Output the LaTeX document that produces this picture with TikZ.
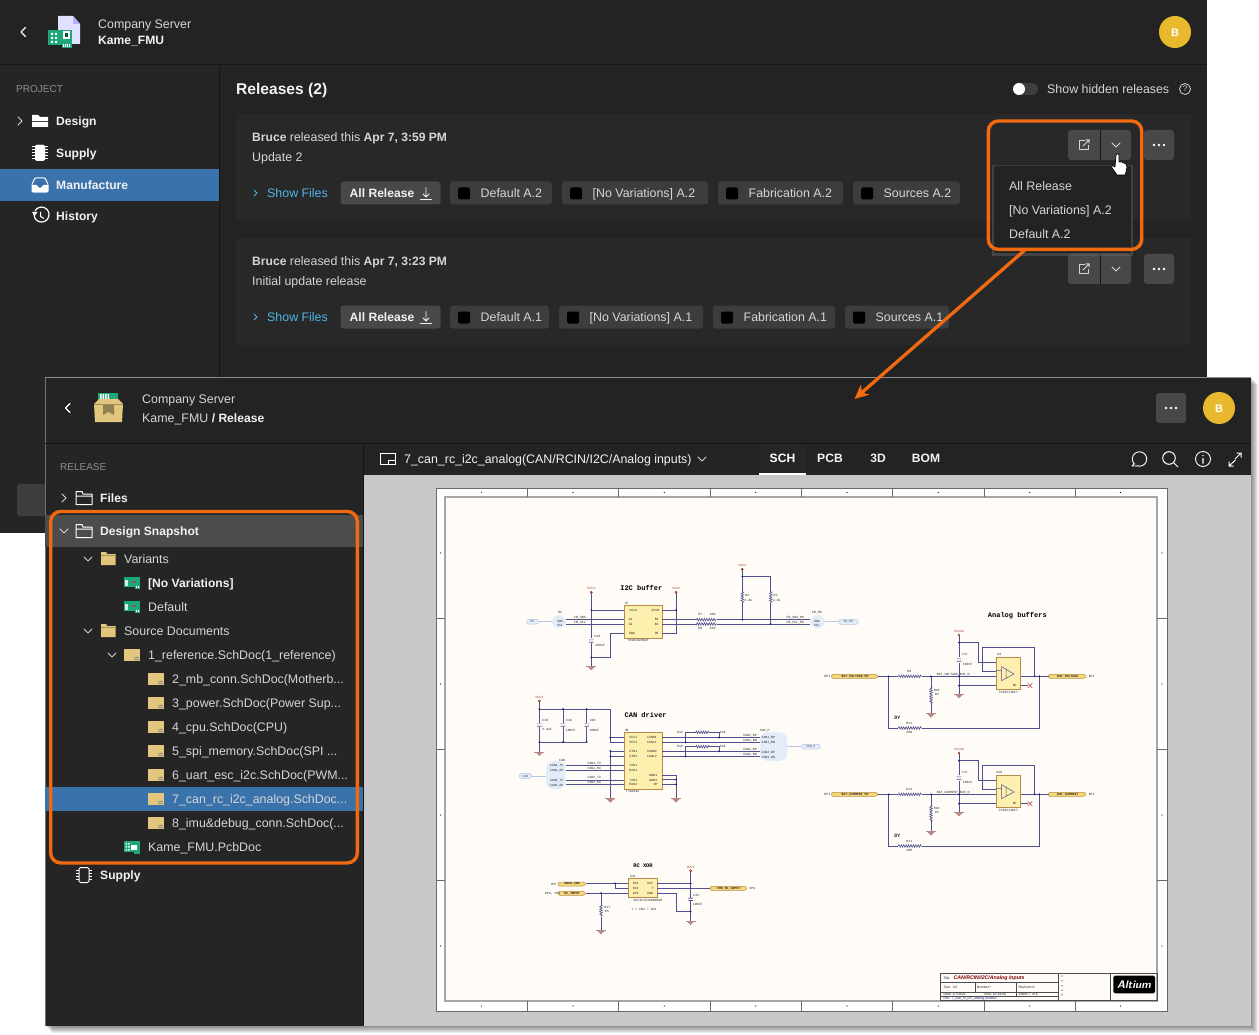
\documentclass[tikz,border=0pt]{standalone}
\usepackage{fontspec}
\setmainfont{Liberation Sans}
\setmonofont{Liberation Mono}
\usetikzlibrary{arrows.meta,decorations.pathmorphing,shapes.geometric}
\definecolor{winbg}{HTML}{232323}
\definecolor{sidebg}{HTML}{252525}
\definecolor{cardbg}{HTML}{282828}
\definecolor{linec}{HTML}{161616}
\definecolor{btnbg}{HTML}{3D3D3D}
\definecolor{btnhi}{HTML}{484848}
\definecolor{txt}{HTML}{D6D6D6}
\definecolor{txtb}{HTML}{F2F2F2}
\definecolor{dimtxt}{HTML}{8E8E8E}
\definecolor{selblue}{HTML}{3A72AB}
\definecolor{rowgrey}{HTML}{4C4C4C}
\definecolor{oran}{HTML}{F26A10}
\definecolor{linkc}{HTML}{4FB4E6}
\definecolor{gold}{HTML}{E8B82E}
\definecolor{tan}{HTML}{E2C67E}
\definecolor{pcbg}{HTML}{1FA679}
\definecolor{canvasg}{HTML}{C8C8C8}
\definecolor{sheetc}{HTML}{FFFCF8}
\definecolor{framec}{HTML}{6A6A6A}
\definecolor{wirec}{HTML}{50508F}
\definecolor{jdotc}{HTML}{1C1C80}
\definecolor{icfill}{HTML}{FDF0AE}
\definecolor{icedge}{HTML}{B88A4C}
\definecolor{gndc}{HTML}{B88888}
\definecolor{vccc}{HTML}{A03028}
\definecolor{portf}{HTML}{F7D77C}
\definecolor{porte}{HTML}{B98F3E}
\definecolor{harn}{HTML}{E3EDF9}
\definecolor{harne}{HTML}{B4C8E4}
\newcounter{nn}
\newcommand{\lbl}[3][]{\stepcounter{nn}\node[ui,#1] (n\thenn) at (#2) {#3};}
\newcommand{\slbl}[3][]{\stepcounter{nn}\node[tiny3,#1] (n\thenn) at (#2) {#3};}
\tikzset{
 ui/.style={anchor=west,inner sep=0pt,text height=9pt,text depth=0pt,text=txt,font=\fontsize{12.4}{14}\selectfont},
 uib/.style={text=txtb,font=\fontsize{12.1}{14}\selectfont\bfseries},
 tiny3/.style={inner sep=0pt,text=black!85,font=\fontsize{3.2}{3}\selectfont\ttfamily},
 wire/.style={draw=wirec,line width=.6pt},
 icon/.style={draw=white,line width=1pt},
 pill/.style={fill=btnbg,draw=none,rounded corners=3pt},
 chev/.style={draw=#1,line width=1pt,line cap=round,line join=round},
 chev/.default=txt,
 frameo/.style={draw=oran,line width=3.4pt,rounded corners=10pt,inner sep=0pt,fill=none},
 res/.style={wire,decorate,decoration={zigzag,segment length=2.4pt,amplitude=1.3pt}},
 ic/.style={draw=icedge,fill=icfill,line width=.7pt},
}
% --- UI icon macros ---
\newcommand{\chevR}[2]{\draw[chev] (#1-2,#2-4)--(#1+2,#2)--(#1-2,#2+4);}
\newcommand{\chevD}[2]{\draw[chev] (#1-4,#2-2)--(#1,#2+2)--(#1+4,#2-2);}
\newcommand{\foldout}[2]{\draw[icon,line join=round] (#1,#2-6)--(#1,#2+6.5)--(#1+16,#2+6.5)--(#1+16,#2-4)--(#1+7,#2-4)--(#1+6,#2-6.5)--(#1,#2-6.5)--cycle (#1,#2-2)--(#1+16,#2-2);}
\newcommand{\foldtan}[2]{\fill[tan] (#1,#2-7)--(#1+5,#2-7)--(#1+6.5,#2-5)--(#1+14.5,#2-5)--(#1+14.5,#2+6)--(#1,#2+6)--cycle; \fill[tan!75!black] (#1,#2-4.5) rectangle (#1+14.5,#2-3.7);}
\newcommand{\schdoc}[2]{\fill[tan] (#1,#2-6) rectangle (#1+16,#2+6); \draw[black!45,line width=.6pt] (#1+10,#2+2.5)--(#1+15,#2+2.5) (#1+10,#2+4.5)--(#1+15,#2+4.5);}
\newcommand{\variant}[2]{\fill[pcbg] (#1,#2-6) rectangle (#1+16,#2+4); \fill[pcbg] (#1+11,#2+4) rectangle (#1+16,#2+6); \fill[white!80!pcbg] (#1+1,#2-3) rectangle (#1+4,#2+3); \fill[red!40!pcbg] (#1+8,#2-2) rectangle (#1+12,#2); \fill[white] (#1+12,#2+3) rectangle (#1+13,#2+5) (#1+14,#2+3) rectangle (#1+15,#2+5);}
\newcommand{\pcbdoc}[2]{\fill[pcbg] (#1,#2-6) rectangle (#1+16,#2+5); \fill[pcbg] (#1+10,#2+5) rectangle (#1+16,#2+7); \fill[white] (#1+7,#2-2.5) rectangle (#1+13,#2+3); \fill[white] (#1+1.5,#2-4) rectangle (#1+3,#2-2.5) (#1+4,#2-4) rectangle (#1+5.5,#2-2.5) (#1+1.5,#2-1) rectangle (#1+3,#2+.5) (#1+4,#2-1) rectangle (#1+5.5,#2+.5) (#1+1.5,#2+2) rectangle (#1+3,#2+3.5) (#1+4,#2+2) rectangle (#1+5.5,#2+3.5);}
\newcommand{\ext}[2]{\draw[draw=txt,line width=1pt,line join=round] (#1+.5,#2-4.5)--(#1-4.5,#2-4.5)--(#1-4.5,#2+4.5)--(#1+4.5,#2+4.5)--(#1+4.5,#2); \draw[draw=txt,line width=1pt] (#1-1,#2+1)--(#1+4.5,#2-4.5) (#1+1.5,#2-5)--(#1+5,#2-5)--(#1+5,#2-1.5);}
\newcommand{\threedots}[2]{\fill[white] (#1-5,#2) circle (1.4pt) (#1,#2) circle (1.4pt) (#1+5,#2) circle (1.4pt);}
\newcommand{\splitbtn}[2]{\fill[btnhi,rounded corners=3pt] (#1,#2) rectangle (#1+63,#2+30); \draw[linec,line width=.8pt] (#1+32.7,#2)--(#1+32.7,#2+30); \ext{#1+16}{#2+15}\chevD{#1+48}{#2+15} \fill[btnhi,rounded corners=3pt] (#1+76,#2) rectangle (#1+106,#2+30); \threedots{#1+91}{#2+15}}
\newcommand{\allrel}[2]{\fill[pill,fill=btnhi] (#1,#2) rectangle (#1+100,#2+23); \lbl[uib]{#1+9,#2+11.5}{All Release}\draw[draw=txtb,line width=.9pt,line cap=round] (#1+85.5,#2+6)--(#1+85.5,#2+15) (#1+82.5,#2+12.5)--(#1+85.5,#2+15.5)--(#1+88.5,#2+12.5) (#1+80,#2+18)--(#1+91,#2+18);}
\newcommand{\vpill}[4]{\fill[pill] (#1,#3) rectangle (#2,#3+23); \fill[black,rounded corners=1.5pt] (#1+8,#3+6) rectangle (#1+20,#3+18); \lbl{#1+30.5,#3+11.5}{#4}}
% --- schematic macros (units: zoom pixels) ---
\newcommand{\jn}[2]{\fill[jdotc] (#1,#2) circle (1pt);}
\newcommand{\vcc}[3]{\draw[vccc,line width=.5pt] (#1,#2) circle (1.1pt); \slbl[text=vccc]{#1,#2-11}{#3}}
\newcommand{\gnd}[2]{\fill[gndc] (#1-15,#2) rectangle (#1+15,#2+2); \fill[gndc] (#1-11,#2+2)--(#1+11,#2+2)--(#1,#2+13)--cycle;}
\newcommand{\capv}[2]{\fill[wirec] (#1-7,#2-4.5) rectangle (#1+7,#2-2.5) (#1-7,#2+2.5) rectangle (#1+7,#2+4.5);}
\newcommand{\port}[4]{\stepcounter{nn}\draw[draw=porte,fill=portf,line width=.5pt,rounded corners=1.2pt] (#1,#3-6)--(#2-6,#3-6)--(#2,#3)--(#2-6,#3+6)--(#1,#3+6)--cycle; \node[tiny3,font=\fontsize{3.2}{3}\selectfont\ttfamily\bfseries] (n\thenn) at ({(#1+#2)/2},#3) {#4};}
\newcommand{\hport}[4]{\stepcounter{nn}\draw[draw=harne,fill=harn,line width=.5pt,rounded corners=2pt] (#1,#3-7) rectangle (#2,#3+7); \node[tiny3,text=black!70] (n\thenn) at ({(#1+#2)/2},#3) {#4};}
\newcommand{\harness}[4]{\fill[harn,rounded corners=8pt] (#1,#2) rectangle (#3,#4);}
\newcommand{\analog}[4]{% dy, R1, etc
 \begin{scope}[shift={(0,#1)}]
 \draw[ic] (558,172) rectangle (632,268);
 \draw[wirec,line width=.5pt] (575,200)--(612,222)--(575,242)--cycle (575,212)--(558,212) (588,206)--(588,236);
 \port{65}{205}{229}{#2\_MS}
 \port{716}{830}{229}{#2}
 \slbl{52,229}{RPI}\slbl{845,229}{RPI}
 \draw[wire] (205,229)--(265,229) (335,229)--(558,229) (632,229)--(716,229);
 \draw[res] (265,229)--(335,229);
 \draw[wire] (363,229)--(363,262) (363,310)--(363,340);
 \draw[res] (363,262)--(363,310);
 \gnd{363}{340}
 \draw[wire] (447,105)--(447,172) (447,188)--(447,282);
 \capv{447}{180}\gnd{447}{282}
 \draw[wire] (447,128)--(506,128)--(506,186)--(558,186) (447,257)--(558,257);
 \draw[wire] (674,229)--(674,142)--(518,142)--(518,214)--(558,214);
 \draw[wire] (236,229)--(236,384)--(265,384) (335,384)--(688,384)--(688,229);
 \draw[res] (265,384)--(335,384);
 \draw[wire] (632,257)--(655,257);
 \draw[red!70!black,line width=.4pt] (653,250)--(667,264) (653,264)--(667,250);
 \jn{236}{229}\jn{363}{229}\jn{447}{229}\jn{447}{128}\jn{447}{257}\jn{674}{229}\jn{688}{229}
 \vcc{447}{105}{VCC3A}
 \slbl[anchor=west]{380,224}{#2\_BUF\_N}
 \slbl{568,163}{#3}\slbl{595,277}{TS3951IDCT}\slbl{614,257}{NC}
 \slbl{298,213}{#4}
 \slbl{298,398}{200}
 \slbl{298,369}{R11}
 \slbl{380,271}{R10}\slbl{380,284}{1M}
 \slbl{465,163}{C17}\slbl{473,192}{100nF}
 \node[tiny3,font=\fontsize{5}{5}\selectfont\ttfamily\bfseries] (dy#3) at (262,355) {DY};
 \end{scope}}
\begin{document}
\begin{tikzpicture}[x=1pt,y=-1pt]
\useasboundingbox (0,0) rectangle (1259,1035);
\fill[white] (0,0) rectangle (1259,1035);
% ============ back window ============
\fill[winbg] (0,0) rectangle (1207,533);
\fill[sidebg] (0,65) rectangle (219,533);
\draw[linec,line width=1pt] (0,64.5)--(1207,64.5) (219.5,65)--(219.5,533);
\draw[chev,draw=white,line width=1.4pt] (25.5,27.5)--(21,32)--(25.5,36.5);
\fill[white!88!blue] (58,16)--(73,16)--(80,24)--(80,44)--(58,44)--cycle;
\fill[white!70!blue] (73,16)--(73,24)--(80,24)--cycle;
\fill[pcbg] (48,30) rectangle (72,45);
\fill[pcbg] (62,45) rectangle (72,48);
\fill[white] (63,31) rectangle (70,39);
\fill[pcbg!50!black] (65,33) rectangle (68,37);
\fill[white] (51,33) rectangle (53,35) (55,33) rectangle (57,35) (51,37) rectangle (53,39) (55,37) rectangle (57,39) (51,41) rectangle (53,43) (55,41) rectangle (57,43);
\fill[white] (63,44) rectangle (64,47) (65,44) rectangle (66,47) (67,44) rectangle (68,47) (69,44) rectangle (70,47);
\lbl{98,24}{Company Server}
\lbl[uib]{98,40}{Kame\_FMU}
\fill[gold] (1175,32) circle (16);
\lbl[anchor=center,text=white,font=\fontsize{11}{12}\selectfont\bfseries]{1175,32}{B}
\lbl[text=dimtxt,font=\fontsize{10}{12}\selectfont,text height=7.5pt]{16,89}{PROJECT}
\chevR{20}{121}
\fill[white] (32,115)--(38,115)--(40,117)--(48,117)--(48,121)--(32,121)--cycle (32,122) rectangle (48,127);
\lbl[uib]{56,121}{Design}
\fill[white,rounded corners=1.5pt] (35,145) rectangle (45,161);
\draw[white,line width=1pt] (32,147)--(48,147) (32,150)--(48,150) (32,153)--(48,153) (32,156)--(48,156) (32,159)--(48,159);
\fill[white,rounded corners=1.5pt] (35,145) rectangle (45,161);
\lbl[uib]{56,153}{Supply}
\fill[selblue] (0,169) rectangle (219,201);
\draw[white,line width=1pt,rounded corners=1pt] (35,178)--(32,184)--(32,192)--(48,192)--(48,184)--(45,178)--cycle;
\fill[white,rounded corners=1pt] (32,185)--(37,185)--(39,188)--(41,188)--(43,185)--(48,185)--(48,192.5)--(32,192.5)--cycle;
\lbl[uib]{56,185}{Manufacture}
\draw[white,line width=1.2pt] (34.5,212) arc (200:-150:7.5);
\draw[white,line width=1pt] (40.5,212)--(40.5,216.5)--(44,218.5);
\fill[white] (32,212)--(37.5,212)--(34.7,216)--cycle;
\lbl[uib]{56,216}{History}
\fill[btnbg,rounded corners=3pt] (17,484) rectangle (50,516);
% content
\lbl[text=txtb,font=\fontsize{15.6}{18}\selectfont\bfseries,text height=11pt]{236,89}{Releases (2)}
\fill[btnbg,rounded corners=6pt] (1013,83) rectangle (1038,95);
\fill[white] (1019,89) circle (6);
\lbl{1047,89}{Show hidden releases}
\draw[txt,line width=.8pt] (1185,89) circle (5.5);
\lbl[anchor=center,font=\fontsize{8}{9}\selectfont,text height=6pt]{1185,89}{?}
\fill[cardbg] (236,114) rectangle (1191,221);
\fill[cardbg] (236,238) rectangle (1191,345);
\lbl{252,137}{\textcolor{txt}{\bfseries\fontsize{12.1}{14}\selectfont Bruce} released this \textbf{\fontsize{12.1}{14}\selectfont Apr 7, 3:59 PM}}
\lbl{252,157}{Update 2}
\lbl{252,261}{\textcolor{txt}{\bfseries\fontsize{12.1}{14}\selectfont Bruce} released this \textbf{\fontsize{12.1}{14}\selectfont Apr 7, 3:23 PM}}
\lbl{252,281}{Initial update release}
\draw[chev=linkc] (254,190)--(257,193)--(254,196);
\draw[chev=linkc] (254,314)--(257,317)--(254,320);
\lbl[text=linkc]{267,193}{Show Files}
\lbl[text=linkc]{267,317}{Show Files}
\allrel{340.5}{181.5}
\vpill{450}{552}{181.5}{Default A.2}
\vpill{562}{708}{181.5}{[No Variations] A.2}
\vpill{718}{843}{181.5}{Fabrication A.2}
\vpill{853}{960}{181.5}{Sources A.2}
\allrel{340.5}{305.5}
\vpill{450}{549}{305.5}{Default A.1}
\vpill{559}{703}{305.5}{[No Variations] A.1}
\vpill{713}{835}{305.5}{Fabrication A.1}
\vpill{845}{949}{305.5}{Sources A.1}
\splitbtn{1068}{130}
\splitbtn{1068}{254}
% dropdown
\fill[black!60,opacity=.45] (992,165) rectangle (1133,256);
\fill[winbg,rounded corners=2pt] (994,166) rectangle (1131,253);
\lbl{1009,186}{All Release}
\lbl{1009,210}{[No Variations] A.2}
\lbl{1009,234}{Default A.2}
\node[frameo,minimum width=153.4pt,minimum height=128.3pt] (menuframe) at (1065,185.2) {};
% hand cursor
\draw[fill=white,draw=black,line width=.7pt,line join=round] (1116,155) .. controls (1116,153) and (1119,153) .. (1119,155) -- (1119,162) -- (1122,162) -- (1124,163) -- (1126,164) -- (1127,167) -- (1126,172) -- (1125,175) -- (1117,175) -- (1111.5,167) .. controls (1111,165) and (1113,165) .. (1115,167) -- cycle;
% ============ front window ============
\foreach \i in {1,...,7}{\fill[black,opacity=.075] (45+\i,377+\i) rectangle (1251+\i,1026+\i);}
\node[draw=none,fill=winbg,inner sep=0pt,minimum width=1206pt,minimum height=649pt] (frontwin) at (648,701.5) {};
\fill[sidebg] (45,444) rectangle (363,1026);
\draw[black!45!white,line width=.7pt] (45,377.5)--(1251,377.5);
\draw[black!55!white,line width=.7pt] (45,377.5)--(45,1026);
\draw[linec,line width=1pt] (45,443.5)--(1251,443.5) (363.5,444)--(363.5,1026);
\draw[chev,draw=white,line width=1.4pt] (70,403.5)--(65.5,408)--(70,412.5);
% package icon
\fill[pcbg] (98,393) rectangle (118,404);
\fill[white] (100,394) rectangle (101.5,399) (102.5,394) rectangle (104,399) (105,394) rectangle (106.5,399) (107.5,394) rectangle (109,399);
\fill[tan] (94,404)--(99,399)--(118,399)--(123,404)--(122,422)--(95,422)--cycle;
\fill[tan!70!black] (94,404) rectangle (123,405);
\fill[tan!65!black] (103,405)--(114,405)--(114,415)--(108.5,412)--(103,415)--cycle;
\lbl{142,399}{Company Server}
\lbl{142,418}{Kame\_FMU \textcolor{txtb}{\bfseries\fontsize{12.1}{14}\selectfont / Release}}
\fill[btnhi,rounded corners=3pt] (1156,393) rectangle (1186,423);
\threedots{1171}{408}
\fill[gold] (1219,408) circle (16);
\lbl[anchor=center,text=white,font=\fontsize{11}{12}\selectfont\bfseries]{1219,408}{B}
% toolbar
\draw[white,line width=1pt] (380.5,453.5) rectangle (395.5,464.5);
\draw[white,line width=1pt] (388,460)--(395.5,460) (388,460)--(388,464.5);
\lbl[text=txtb]{404,459}{7\_can\_rc\_i2c\_analog(CAN/RCIN/I2C/Analog inputs)}
\chevD{702}{459}
\fill[black!85] (759,444) rectangle (806,475);
\fill[white] (759,473) rectangle (806,475);
\lbl[anchor=center,text=white,font=\fontsize{12.1}{14}\selectfont\bfseries]{782.5,458}{SCH}
\lbl[anchor=center,text=txtb,font=\fontsize{12.1}{14}\selectfont\bfseries]{830,458}{PCB}
\lbl[anchor=center,text=txtb,font=\fontsize{12.1}{14}\selectfont\bfseries]{878,458}{3D}
\lbl[anchor=center,text=txtb,font=\fontsize{12.1}{14}\selectfont\bfseries]{926,458}{BOM}
\draw[white,line width=.9pt] (1139.5,459) circle (7.2);
\draw[white,line width=.9pt,line join=round,fill=winbg] (1134.5,463.5)--(1132,466)--(1137.5,466);
\draw[white,line width=1pt] (1169,458) circle (6.3) (1173.5,462.5)--(1178,467);
\draw[white,line width=.9pt] (1203,459) circle (7.5);
\fill[white] (1203,455.6) circle (.8) (1202.3,458) rectangle (1203.7,463.5);
\draw[white,line width=1pt] (1229,466)--(1235.5,460) (1229,461.5)--(1229,466)--(1233.5,466) (1235,459)--(1241,453) (1236.5,453)--(1241,453)--(1241,457.5);
% canvas
\fill[canvasg] (364,475) rectangle (1251,1026);
% sidebar tree
\lbl[text=dimtxt,font=\fontsize{10}{12}\selectfont,text height=7.5pt]{60,467}{RELEASE}
\chevR{64}{498}
\foldout{76}{498}
\lbl[uib]{100,498}{Files}
\fill[rowgrey] (45,515) rectangle (363,547);
\chevD{64}{531}
\foldout{76}{531}
\lbl[uib]{100,531}{Design Snapshot}
\chevD{88}{559}\foldtan{101}{559}\lbl{124,559}{Variants}
\variant{124}{583}\lbl[uib]{148,583}{[No Variations]}
\variant{124}{607}\lbl{148,607}{Default}
\chevD{88}{631}\foldtan{101}{631}\lbl{124,631}{Source Documents}
\chevD{112}{655}\schdoc{124}{655}\lbl{148,655}{1\_reference.SchDoc(1\_reference)}
\fill[selblue] (45,787) rectangle (363,811);
\foreach \yy/\ttxt in {679/{2\_mb\_conn.SchDoc(Motherb...},703/{3\_power.SchDoc(Power Sup...},727/{4\_cpu.SchDoc(CPU)},751/{5\_spi\_memory.SchDoc(SPI ...},775/{6\_uart\_esc\_i2c.SchDoc(PWM...},799/{7\_can\_rc\_i2c\_analog.SchDoc...},823/{8\_imu\&debug\_conn.SchDoc(...}}{
 \schdoc{148}{\yy}\lbl{172,\yy}{\ttxt}
}
\pcbdoc{124}{847}\lbl{148,847}{Kame\_FMU.PcbDoc}
\draw[white,line width=1pt,rounded corners=1.5pt] (79,867.5) rectangle (89,882.5);
\draw[white,line width=1pt] (76,870)--(79,870) (76,873)--(79,873) (76,876)--(79,876) (76,879)--(79,879) (89,870)--(92,870) (89,873)--(92,873) (89,876)--(92,876) (89,879)--(92,879);
\lbl[uib]{100,875}{Supply}
\node[frameo,minimum width=306.6pt,minimum height=351.5pt] (treeframe) at (204,687.2) {};
% ============ sheet ============
\fill[white] (436,488) rectangle (1167,1011);
\draw[framec,line width=1pt] (436,488) rectangle (1167,1011);
\fill[sheetc] (445,497) rectangle (1157,1001);
\draw[black!35,line width=1.2pt] (445,497) rectangle (1157,1001);
\foreach \vx in {527.3,618.7,710,801.3,892.7,984,1075.3}{
 \draw[framec,line width=.8pt] (\vx,488)--(\vx,497) (\vx,1001)--(\vx,1011);}
\foreach \hy in {618,749,880}{
 \draw[framec,line width=.8pt] (436,\hy)--(445,\hy) (1157,\hy)--(1167,\hy);}
\foreach \vx in {481.6,573,664.3,755.7,847,938.3,1029.7,1120.5}{
 \fill[black] (\vx,492.5) circle (.6) (\vx,1006) circle (.6);}
\foreach \hy in {553,684,815,946}{
 \fill[black] (440.5,\hy) circle (.6) (1162,\hy) circle (.6);}
% I2C / CAN
\begin{scope}[shift={(500,560)},x=.33333pt,y=-.33333pt]
 \harness{155}{165}{198}{205}\harness{930}{165}{975}{205}\harness{138}{603}{197}{688}\harness{780}{517}{862}{603}
 \draw[draw=harne,line width=.8pt] (115,185)--(155,185) (975,185)--(1016,185) (95,648)--(138,648) (862,560)--(905,560);
 \hport{80}{115}{185}{RC}\hport{1016}{1074}{186}{FB\_MS}\hport{57}{95}{648}{CAN}\hport{905}{960}{560}{CAN\_P}
 \draw[ic] (373,137) rectangle (487,235);
 \draw[ic] (373,518) rectangle (487,688);
 \draw[wire] (274,97)--(274,235) (274,250)--(274,318) (274,150)--(373,150) (274,292)--(331,292)--(331,220)--(373,220);
 \capv{274}{243}\gnd{274}{318}
 \draw[wire] (528,97)--(528,220)--(487,220) (487,150)--(528,150);
 \draw[wire] (197,179)--(373,179) (197,192)--(373,192) (487,179)--(590,179) (487,192)--(590,192) (650,179)--(930,179) (650,192)--(930,192);
 \draw[res] (590,179)--(650,179);\draw[res] (590,192)--(650,192);
 \draw[wire] (727,28)--(727,95) (727,130)--(727,179) (812,50)--(812,95) (812,130)--(812,192) (727,50)--(812,50);
 \draw[res] (727,95)--(727,130);\draw[res] (812,95)--(812,130);
 \jn{274}{150}\jn{274}{292}\jn{528}{150}\jn{727}{50}\jn{727}{179}\jn{812}{192}
 \vcc{274}{97}{VCC3}\vcc{528}{97}{VCC3}\vcc{727}{28}{VCC3}
 \slbl[text=black,font=\fontsize{7}{7}\selectfont\ttfamily\bfseries]{424,85}{I2C buffer}
 \slbl{380,129}{U7}\slbl{414,241}{TXS0102DCUR}\slbl{292,230}{C16}\slbl{300,256}{100nF}
 \slbl{400,151}{VCCA}\slbl{466,151}{VCCB}\slbl{392,179}{A1}\slbl{392,193}{A2}\slbl{470,179}{B1}\slbl{470,193}{B2}\slbl{396,220}{GND}\slbl{470,220}{OE}
 \slbl{240,174}{FB\_SDA}\slbl{240,187}{FB\_SCL}\slbl{886,174}{FB\_SDA\_MS}\slbl{886,188}{FB\_SCL\_MS}
 \slbl{601,162}{R7}\slbl{638,162}{100}\slbl{601,205}{R8}\slbl{638,205}{100}
 \slbl{742,105}{R2}\slbl{745,121}{2.2k}\slbl{827,105}{R3}\slbl{830,121}{2.2k}
 \slbl{181,158}{RC}\slbl{951,158}{FB\_MS}\slbl{180,185}{SDA}\slbl{180,195}{SCL}\slbl{951,184}{SDA}\slbl{951,195}{SCL}
 % CAN driver
 \draw[wire] (118,423)--(118,490) (118,500)--(118,575) (118,447)--(331,447)--(331,548)--(373,548) (331,533)--(373,533);
 \draw[wire] (189,447)--(189,490) (189,500)--(189,546) (260,447)--(260,490) (260,500)--(260,546) (118,546)--(260,546);
 \capv{118}{495}\capv{189}{495}\capv{260}{495}\gnd{118}{575}
 \draw[wire] (331,573)--(373,573) (331,589)--(373,589) (331,573)--(331,715);\gnd{331}{715}
 \draw[wire] (487,645)--(528,645)--(528,715) (487,659)--(528,659) (487,673)--(528,673);\gnd{528}{715}
 \draw[wire] (197,617)--(373,617) (197,631)--(373,631) (197,660)--(373,660) (197,674)--(373,674);
 \draw[wire] (487,533)--(780,533) (487,547)--(780,547) (487,574)--(780,574) (487,589)--(780,589);
 \draw[wire] (557,547)--(557,517)--(587,517) (627,517)--(657,517)--(657,533) (557,589)--(557,560)--(587,560) (627,560)--(657,560)--(657,574);
 \draw[res] (587,517)--(627,517);\draw[res] (587,560)--(627,560);
 \jn{118}{447}\jn{189}{447}\jn{260}{447}\jn{118}{546}\jn{189}{546}\jn{260}{546}\jn{331}{533}\jn{331}{573}\jn{331}{589}\jn{557}{547}\jn{657}{533}\jn{557}{589}\jn{657}{574}\jn{528}{659}\jn{528}{673}
 \vcc{118}{423}{VCC3}
 \slbl[text=black,font=\fontsize{7}{7}\selectfont\ttfamily\bfseries]{437,465}{CAN driver}
 \slbl{380,510}{U8}\slbl{398,694}{TJA1042}\slbl{136,481}{C18}\slbl{207,481}{C19}\slbl{278,481}{C20}\slbl{141,510}{3.3\textmu F}\slbl{212,510}{100nF}\slbl{283,510}{100nF}
 \slbl{400,532}{VCC1}\slbl{400,548}{VCC2}\slbl{400,574}{STB1}\slbl{400,590}{STB2}\slbl{400,617}{TXD1}\slbl{400,632}{RXD1}\slbl{400,660}{TXD2}\slbl{400,674}{RXD2}
 \slbl{456,532}{CANH1}\slbl{456,547}{CANL1}\slbl{456,575}{CANH2}\slbl{456,590}{CANL2}\slbl{460,647}{GND1}\slbl{460,660}{GND2}\slbl{467,674}{EP}
 \slbl{540,517}{R12}\slbl{540,558}{R13}\slbl{668,517}{120}\slbl{668,559}{120}
 \slbl{750,528}{CAN1\_BP}\slbl{750,543}{CAN1\_BN}\slbl{750,570}{CAN2\_BP}\slbl{750,585}{CAN2\_BN}
 \slbl{805,533}{CAN1\_BP}\slbl{805,548}{CAN1\_BN}\slbl{805,578}{CAN2\_BP}\slbl{805,592}{CAN2\_BN}\slbl{794,513}{CAN\_P}
 \slbl{186,600}{CAN}\slbl{170,618}{CAN1\_TX}\slbl{170,632}{CAN1\_RX}\slbl{170,662}{CAN2\_TX}\slbl{170,676}{CAN2\_RX}
 \slbl{283,612}{CAN1\_TX}\slbl{283,626}{CAN1\_RX}\slbl{283,654}{CAN2\_TX}\slbl{283,669}{CAN2\_RX}
\end{scope}
% analog
\begin{scope}[shift={(810,600)},x=.33333pt,y=-.33333pt]
 \slbl[text=black,font=\fontsize{7}{7}\selectfont\ttfamily\bfseries]{622,48}{Analog buffers}
 \analog{0}{BAT\_VOLTAGE}{U9}{R9}
 \analog{354}{BAT\_CURRENT}{U10}{R14}
\end{scope}
% XOR
\begin{scope}[shift={(520,850)},x=.33333pt,y=-.33333pt]
 \draw[ic] (325,85) rectangle (412,143);
 \port{115}{198}{102}{SBUS\_INV}\port{115}{198}{130}{RC\_INPUT}\port{570}{682}{115}{FMU\_RC\_INPUT}
 \slbl{101,102}{VPU}\slbl{98,130}{RPU, VPU}\slbl{697,115}{VPU}
 \draw[wire] (198,100)--(325,100) (285,100)--(285,115)--(325,115) (198,129)--(325,129) (243,129)--(243,165) (243,200)--(243,240);
 \draw[res] (243,165)--(243,200);\gnd{243}{240}
 \draw[wire] (412,100)--(512,100) (512,62)--(512,143) (512,153)--(512,212) (412,115)--(570,115) (412,129)--(470,129)--(470,185)--(512,185);
 \capv{512}{148}\gnd{512}{212}
 \jn{285}{100}\jn{243}{129}\jn{512}{100}\jn{512}{185}
 \vcc{512}{62}{VCC3}
 \slbl[text=black,font=\fontsize{5.4}{5.4}\selectfont\ttfamily\bfseries]{369,48}{RC XOR}
 \slbl{339,79}{U11}\slbl{384,152}{SN74LVC1G86DBVR}\slbl{372,178}{Y = IN1 \^{} IN2}
 \slbl{347,100}{IN1}\slbl{347,115}{IN2}\slbl{347,130}{IN3}\slbl{390,100}{VCC}\slbl{398,115}{Y}\slbl{390,130}{GND}
 \slbl{262,171}{R17}\slbl{260,184}{1M}\slbl{529,136}{C22}\slbl{533,162}{100nF}
\end{scope}
% title block
\begin{scope}[shift={(930,960)},x=.33333pt,y=-.33333pt]
 \draw[black!70,line width=.6pt] (30,40) rectangle (683,122) (30,67)--(385,67) (30,97)--(385,97) (30,110)--(385,110) (385,40)--(385,122) (542,40)--(542,122) (135,67)--(135,97) (260,67)--(260,110);
 \slbl[anchor=west,font=\fontsize{3.4}{4}\selectfont]{40,54}{Title}
 \slbl[anchor=west,text=red!50!black,font=\fontsize{5.2}{6}\selectfont\bfseries\itshape]{70,54}{CAN/RCIN/I2C/Analog Inputs}
 \slbl[anchor=west,font=\fontsize{3.4}{4}\selectfont]{40,82}{Size:\ \ A3}
 \slbl[anchor=west,font=\fontsize{3.4}{4}\selectfont]{140,82}{Number:*}
 \slbl[anchor=west,font=\fontsize{3.4}{4}\selectfont]{265,82}{Revision:0}
 \slbl[anchor=west,font=\fontsize{3.4}{4}\selectfont]{40,103}{Date:\ 1/7/2021}
 \slbl[anchor=west,font=\fontsize{3.4}{4}\selectfont]{160,103}{Time:\ 10:24:00}
 \slbl[anchor=west,font=\fontsize{3.4}{4}\selectfont]{265,103}{Sheet:7\ \ of 8}
 \slbl[anchor=west,text=jdotc,font=\fontsize{3.4}{4}\selectfont]{40,117}{File:\ \ 7\_can\_rc\_i2c\_analog.SchDoc}
 \fill[black,rounded corners=1.5pt] (550,47) rectangle (675,100);
 \slbl[anchor=center,text=white,font=\fontsize{11}{12}\selectfont\sffamily\bfseries\itshape]{612,74}{Altium}
 \fill[black!80] (396,48) circle (.6pt) (396,62) circle (.6pt) (396,77) circle (.6pt) (396,91) circle (.6pt) (396,104) circle (.6pt);
\end{scope}
% arrow
\coordinate (arrowtail) at (1026,249);
\coordinate (arrowtip) at (854.5,399);
\draw[oran,line width=3.3pt,-{Stealth[length=14pt,width=13pt,inset=4pt]}] (arrowtail)--(arrowtip);
\end{tikzpicture}
\end{document}
